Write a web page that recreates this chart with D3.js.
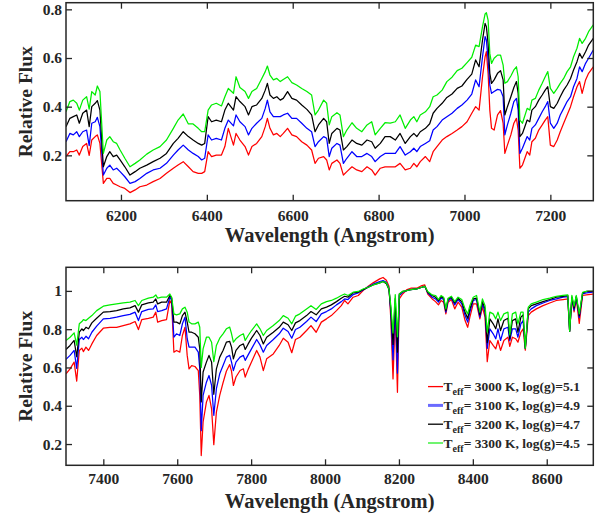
<!DOCTYPE html>
<html>
<head>
<meta charset="utf-8">
<script src="https://cdn.jsdelivr.net/npm/d3@7"></script>
<style>
  body { margin: 0; background: #fff; }
  text { font-family: "Liberation Serif", "Times New Roman", serif; font-weight: bold; fill: #262626; }
</style>
</head>
<body>
<svg id="chart" width="612" height="518"></svg>
<script>
// ---------- Panel 1: 6070-7300 Å ----------
const waveA = [6072,6081,6089,6097,6103,6111,6120,6126,6132,6140,6145,6151,6159,6167,6174,6182,6190,6198,6209,6221,6233,6244,6260,6275,6291,6306,6322,6333,6345,6357,6368,6380,6388,6395,6403,6411,6422,6434,6442,6450,
  6462,6468,6477,6489,6497,6505,6516,6528,6536,6541,6547,6555,6563,6571,6578,6588,6598,6609,6621,6633,6644,6652,6660,6672,6679,6685,6691,6703,6710,6718,6726,6738,6749,6761,6773,6784,6792,6804,6815,6827,6839,6850,6862,
  6874,6882,6889,6897,6909,6919,6927,6936,6948,6959,6971,6983,6994,7006,7017,7026,7034,7042,7048,7051,7055,7059,7063,7069,7077,7084,7090,7094,7100,7108,7115,7121,7125,7129,7135,7146,7152,7157,7165,7173,7181,7188,7194,7200,7208,7216,7223,7231,7239,7247,7254,7262,7268,7274,7282,7289,7300];

const fluxA3000 = [0.195,0.215,0.215,0.222,0.201,0.236,0.249,0.200,0.263,0.277,0.284,0.249,0.085,0.105,0.105,0.085,0.078,0.071,0.064,0.047,0.058,0.071,0.078,0.092,0.105,0.126,0.147,0.160,0.174,0.153,0.133,0.126,0.126,0.133,0.215,0.195,0.201,0.201,0.236,0.311,
  0.242,0.290,0.263,0.236,0.201,0.236,0.249,0.277,0.318,0.352,0.311,0.284,0.290,0.277,0.290,0.311,0.284,0.277,0.256,0.242,0.222,0.167,0.188,0.195,0.181,0.140,0.167,0.181,0.167,0.119,0.133,0.153,0.140,0.133,0.153,0.140,0.119,0.147,0.153,0.153,0.153,0.167,0.140,
  0.147,0.167,0.153,0.174,0.195,0.174,0.215,0.236,0.263,0.277,0.290,0.304,0.318,0.338,0.373,0.400,0.386,0.523,0.605,0.626,0.537,0.386,0.311,0.304,0.366,0.384,0.332,0.208,0.242,0.284,0.332,0.352,0.304,0.147,0.160,0.215,0.201,0.256,0.270,0.304,0.325,0.345,0.359,0.242,0.236,0.263,0.297,0.332,0.366,0.400,0.441,0.482,0.503,0.455,0.510,0.537,0.564];

const fluxA3100 = [0.256,0.290,0.284,0.297,0.277,0.297,0.304,0.240,0.332,0.338,0.356,0.318,0.119,0.147,0.160,0.140,0.147,0.133,0.112,0.085,0.092,0.105,0.126,0.140,0.147,0.167,0.201,0.222,0.242,0.222,0.208,0.195,0.181,0.188,0.284,0.263,0.270,0.263,0.311,0.345,
  0.321,0.366,0.338,0.318,0.284,0.311,0.332,0.352,0.393,0.427,0.379,0.359,0.359,0.359,0.366,0.373,0.352,0.352,0.332,0.311,0.297,0.236,0.256,0.277,0.270,0.195,0.229,0.249,0.242,0.167,0.188,0.215,0.195,0.195,0.208,0.195,0.174,0.195,0.208,0.208,0.208,0.236,0.201,
  0.215,0.229,0.215,0.236,0.249,0.260,0.304,0.318,0.345,0.359,0.373,0.393,0.407,0.427,0.452,0.510,0.482,0.605,0.688,0.674,0.592,0.489,0.455,0.462,0.471,0.468,0.441,0.284,0.325,0.373,0.421,0.434,0.386,0.208,0.229,0.277,0.263,0.311,0.325,0.352,0.379,0.400,0.421,0.332,0.311,0.332,0.366,0.393,0.421,0.441,0.482,0.516,0.564,0.544,0.578,0.599,0.633];

const fluxA3200 = [0.318,0.352,0.359,0.366,0.332,0.373,0.386,0.318,0.400,0.414,0.425,0.386,0.153,0.195,0.215,0.195,0.201,0.181,0.153,0.119,0.133,0.147,0.160,0.174,0.188,0.208,0.249,0.270,0.297,0.277,0.263,0.249,0.242,0.249,0.359,0.338,0.345,0.338,0.386,0.414,
  0.386,0.441,0.421,0.400,0.366,0.400,0.407,0.434,0.468,0.496,0.448,0.434,0.441,0.427,0.434,0.462,0.434,0.427,0.407,0.389,0.366,0.297,0.325,0.352,0.338,0.249,0.290,0.311,0.304,0.222,0.236,0.263,0.249,0.242,0.263,0.256,0.229,0.249,0.277,0.277,0.263,0.290,0.249,
  0.277,0.290,0.277,0.297,0.311,0.330,0.373,0.393,0.414,0.438,0.452,0.475,0.485,0.512,0.534,0.592,0.564,0.674,0.742,0.729,0.660,0.537,0.496,0.510,0.537,0.548,0.510,0.366,0.400,0.441,0.479,0.503,0.455,0.277,0.290,0.345,0.338,0.386,0.400,0.427,0.448,0.468,0.482,0.400,0.393,0.414,0.441,0.468,0.489,0.516,0.551,0.585,0.619,0.599,0.626,0.653,0.681];

const fluxA3300 = [0.379,0.421,0.427,0.414,0.386,0.427,0.441,0.390,0.462,0.448,0.485,0.462,0.208,0.263,0.277,0.256,0.249,0.222,0.188,0.153,0.167,0.181,0.205,0.222,0.236,0.263,0.311,0.345,0.370,0.329,0.329,0.311,0.297,0.297,0.386,0.407,0.414,0.403,0.441,0.475,
  0.455,0.523,0.479,0.462,0.434,0.462,0.475,0.516,0.544,0.567,0.530,0.510,0.516,0.503,0.512,0.523,0.499,0.489,0.475,0.462,0.448,0.366,0.386,0.427,0.414,0.325,0.359,0.375,0.366,0.277,0.304,0.334,0.311,0.297,0.325,0.338,0.284,0.311,0.334,0.332,0.338,0.366,0.311,
  0.345,0.359,0.338,0.366,0.379,0.400,0.441,0.448,0.468,0.503,0.521,0.548,0.558,0.581,0.603,0.653,0.647,0.729,0.781,0.786,0.756,0.619,0.578,0.599,0.612,0.612,0.571,0.496,0.503,0.526,0.551,0.564,0.523,0.345,0.332,0.393,0.386,0.427,0.434,0.468,0.496,0.523,0.544,0.475,0.455,0.475,0.496,0.516,0.544,0.564,0.605,0.640,0.681,0.660,0.681,0.708,0.736];

const ticksA_x = [6200, 6400, 6600, 6800, 7000, 7200];
const ticksA_y = [0.2, 0.4, 0.6, 0.8];

// ---------- Panel 2: 7300-8725 Å ----------
const waveB = [7299,7310,7321,7328,7335,7342,7346,7353,7360,7369,7382,7400,7418,7436,7454,7472,7486,7495,7504,7522,7535,7542,7547,7558,7571,7580,7585,7591,7598,7607,7614,7621,7627,7632,7639,7648,7657,7661,7665,7670,
  7679,7686,7693,7699,7706,7715,7724,7733,7742,7747,7752,7759,7770,7779,7784,7792,7801,7815,7824,7833,7842,7860,7876,7887,7900,7910,7920,7932,7950,7962,7976,7990,8004,8017,8031,8044,8053,8062,8076,8090,
  8103,8117,8130,8148,8157,8166,8173,8178,8184,8190,8196,8201,8210,8222,8232,8248,8262,8270,8278,8290,8299,8307,8314,8321,8327,8333,8342,8351,8360,8370,8379,8386,8392,8401,8410,8419,8426,8433,8439,8446,
  8455,8462,8468,8475,8484,8495,8500,8507,8516,8522,8530,8536,8542,8550,8558,8572,8590,8608,8626,8644,8657,8662,8668,8674,8680,8688,8697,8707,8725];

const fluxB3000 = [0.567,0.593,0.628,0.529,0.689,0.701,0.683,0.706,0.689,0.723,0.767,0.805,0.810,0.810,0.819,0.828,0.840,0.798,0.850,0.857,0.863,0.889,0.837,0.845,0.850,0.950,0.932,0.680,0.689,0.680,0.767,0.810,0.663,0.593,0.610,0.605,0.584,0.454,0.140,0.315,
  0.419,0.454,0.384,0.197,0.367,0.454,0.520,0.580,0.615,0.580,0.506,0.550,0.584,0.593,0.550,0.590,0.628,0.689,0.654,0.584,0.645,0.671,0.715,0.753,0.732,0.677,0.746,0.758,0.793,0.819,0.784,0.837,0.854,0.871,0.897,0.923,0.950,0.932,0.967,0.976,
  1.002,1.024,1.042,1.063,1.070,1.056,1.024,0.854,0.540,0.880,0.470,0.958,0.984,1.007,1.014,1.014,1.028,1.031,0.984,0.958,0.944,0.927,0.950,0.941,0.880,0.941,0.955,0.906,0.941,0.915,0.845,0.810,0.863,0.932,0.932,0.854,0.915,0.863,0.630,0.741,
  0.715,0.697,0.741,0.689,0.741,0.758,0.710,0.758,0.750,0.732,0.784,0.802,0.690,0.871,0.889,0.906,0.923,0.937,0.950,0.955,0.958,0.790,0.955,0.890,0.958,0.830,0.976,0.979,0.983];

const fluxB3100 = [0.642,0.663,0.689,0.595,0.746,0.758,0.746,0.763,0.750,0.784,0.816,0.854,0.857,0.863,0.871,0.877,0.889,0.845,0.892,0.903,0.906,0.927,0.892,0.897,0.906,0.967,0.950,0.758,0.776,0.767,0.828,0.863,0.750,0.706,0.706,0.706,0.680,0.593,0.270,0.454,
  0.523,0.558,0.506,0.350,0.489,0.567,0.610,0.654,0.663,0.628,0.584,0.628,0.654,0.663,0.637,0.666,0.697,0.746,0.718,0.680,0.715,0.746,0.776,0.805,0.788,0.753,0.798,0.810,0.840,0.863,0.840,0.880,0.892,0.906,0.927,0.944,0.958,0.955,0.981,0.990,
  1.005,1.021,1.035,1.049,1.054,1.045,1.014,0.889,0.640,0.930,0.570,0.976,0.993,1.002,1.007,1.010,1.019,1.024,0.990,0.967,0.958,0.941,0.962,0.955,0.889,0.950,0.962,0.927,0.955,0.932,0.871,0.837,0.889,0.950,0.955,0.863,0.932,0.889,0.700,0.802,
  0.776,0.750,0.802,0.741,0.802,0.810,0.740,0.802,0.802,0.758,0.828,0.845,0.700,0.889,0.906,0.923,0.937,0.950,0.958,0.967,0.970,0.790,0.962,0.900,0.967,0.860,0.984,0.990,0.993];

const fluxB3200 = [0.694,0.715,0.741,0.656,0.784,0.802,0.793,0.810,0.802,0.833,0.857,0.889,0.892,0.897,0.906,0.911,0.923,0.889,0.927,0.937,0.941,0.958,0.932,0.941,0.941,0.976,0.962,0.837,0.837,0.828,0.871,0.889,0.837,0.784,0.784,0.776,0.758,0.697,0.420,0.576,
  0.628,0.663,0.628,0.460,0.593,0.654,0.689,0.732,0.736,0.706,0.645,0.689,0.715,0.723,0.694,0.723,0.753,0.793,0.767,0.723,0.758,0.784,0.810,0.837,0.823,0.793,0.833,0.845,0.871,0.892,0.875,0.906,0.915,0.927,0.944,0.962,0.972,0.967,0.990,0.993,
  1.007,1.019,1.031,1.042,1.049,1.038,1.007,0.906,0.720,0.960,0.680,0.984,0.997,1.002,1.007,1.010,1.019,1.024,0.993,0.976,0.967,0.950,0.970,0.962,0.897,0.958,0.967,0.937,0.962,0.944,0.889,0.857,0.906,0.958,0.962,0.875,0.944,0.906,0.730,0.854,
  0.828,0.802,0.854,0.793,0.845,0.857,0.750,0.845,0.854,0.784,0.863,0.875,0.700,0.906,0.923,0.932,0.944,0.955,0.967,0.972,0.976,0.790,0.967,0.910,0.972,0.870,0.990,0.997,0.997];

const fluxB3300 = [0.741,0.758,0.781,0.717,0.828,0.840,0.850,0.845,0.857,0.871,0.897,0.920,0.927,0.932,0.937,0.941,0.950,0.923,0.950,0.962,0.967,0.979,0.962,0.967,0.967,0.984,0.967,0.880,0.875,0.880,0.906,0.915,0.889,0.837,0.828,0.828,0.837,0.810,0.600,0.697,
  0.758,0.758,0.732,0.630,0.715,0.753,0.776,0.802,0.811,0.776,0.732,0.750,0.767,0.776,0.741,0.767,0.793,0.828,0.802,0.767,0.793,0.819,0.845,0.871,0.857,0.828,0.868,0.880,0.906,0.923,0.903,0.932,0.944,0.950,0.962,0.976,0.984,0.976,0.993,0.997,
  1.010,1.019,1.031,1.042,1.049,1.042,1.010,0.923,0.780,0.980,0.760,0.984,0.997,1.002,1.007,1.010,1.019,1.024,0.997,0.979,0.976,0.955,0.976,0.967,0.906,0.962,0.972,0.944,0.967,0.955,0.906,0.880,0.923,0.967,0.976,0.889,0.958,0.923,0.785,0.889,
  0.880,0.854,0.889,0.845,0.880,0.889,0.770,0.880,0.889,0.828,0.889,0.889,0.700,0.915,0.932,0.941,0.955,0.962,0.972,0.976,0.979,0.790,0.976,0.920,0.976,0.880,0.993,0.997,0.997];

const ticksB_x = [7400, 7600, 7800, 8000, 8200, 8400, 8600];
const ticksB_y = [0.2, 0.4, 0.6, 0.8, 1];

// ---------- Legend ----------
const legendTemps = ["3000", "3100", "3200", "3300"];
const legendLogg = ["5.1", "4.9", "4.7", "4.5"];
const lineColors = ["#ff0000", "#0000ff", "#000000", "#00ee00"];
const legendColors = ["#ff0000", "#6b6bff", "#000000", "#22ee22"];

const svg = d3.select("#chart");
const axisColor = "#262626";

function drawPanel(opts) {
  const x = d3.scaleLinear().domain(opts.xDomain).range([66, 593.3]);
  const y = d3.scaleLinear().domain(opts.yDomain).range([opts.bottom, opts.top]);
  const g = svg.append("g");

  const clipId = "clip" + opts.id;
  g.append("clipPath").attr("id", clipId)
    .append("rect").attr("x", 66).attr("y", opts.top)
    .attr("width", 593.3 - 66).attr("height", opts.bottom - opts.top);

  const line = d3.line().x(d => x(d[0])).y(d => y(d[1]));
  const lines = g.append("g").attr("clip-path", `url(#${clipId})`);
  opts.series.forEach((s, i) => {
    lines.append("path")
      .datum(opts.wave.map((w, k) => [w, s[k]]))
      .attr("fill", "none")
      .attr("stroke", lineColors[i])
      .attr("stroke-width", 1.25)
      .attr("stroke-linejoin", "round")
      .attr("d", line);
  });

  const fmt = v => (v === 1 ? "1" : v.toFixed(1));

  // bottom axis with labels, inward ticks
  const ax = g.append("g").attr("transform", `translate(0,${opts.bottom})`)
    .call(d3.axisBottom(x).tickValues(opts.xTicks).tickSizeInner(-6).tickSizeOuter(0).tickPadding(opts.xPad).tickFormat(d3.format("d")));
  ax.selectAll("text").attr("font-size", 15.5).attr("font-family", null).style("fill", axisColor);
  // top axis, ticks only
  const axT = g.append("g").attr("transform", `translate(0,${opts.top})`)
    .call(d3.axisTop(x).tickValues(opts.xTicks).tickSizeInner(-6).tickSizeOuter(0).tickFormat(""));
  // left axis with labels
  const ay = g.append("g").attr("transform", "translate(66,0)")
    .call(d3.axisLeft(y).tickValues(opts.yTicks).tickSizeInner(-6).tickSizeOuter(0).tickPadding(4).tickFormat(fmt));
  ay.selectAll("text").attr("font-size", 15.5).attr("font-family", null).style("fill", axisColor);
  // right axis, ticks only
  const ayR = g.append("g").attr("transform", "translate(593.3,0)")
    .call(d3.axisRight(y).tickValues(opts.yTicks).tickSizeInner(-6).tickSizeOuter(0).tickFormat(""));

  [ax, axT, ay, ayR].forEach(a => {
    a.select(".domain").remove();
    a.selectAll("line").attr("stroke", axisColor).attr("stroke-width", 1.3);
  });

  g.append("rect")
    .attr("x", 66).attr("y", opts.top)
    .attr("width", 593.3 - 66).attr("height", opts.bottom - opts.top)
    .attr("fill", "none").attr("stroke", axisColor).attr("stroke-width", 1.5);

  g.append("text")
    .attr("x", (66 + 593.3) / 2).attr("y", opts.titleY)
    .attr("text-anchor", "middle").attr("font-size", 20.5)
    .text("Wavelength (Angstrom)");
  g.append("text")
    .attr("transform", `translate(${opts.ylabelX},${(opts.top + opts.bottom) / 2}) rotate(-90)`)
    .attr("text-anchor", "middle").attr("font-size", 19.5)
    .text("Relative Flux");

  return { x, y, g };
}

drawPanel({
  id: "A", wave: waveA, series: [fluxA3000, fluxA3100, fluxA3200, fluxA3300],
  xDomain: [6072, 7300], yDomain: [0.0136, 0.8273], top: 2.7, bottom: 200.7,
  xTicks: ticksA_x, yTicks: ticksA_y, xPad: 9, titleY: 242, ylabelX: 32
});

const pB = drawPanel({
  id: "B", wave: waveB, series: [fluxB3000, fluxB3100, fluxB3200, fluxB3300],
  xDomain: [7299, 8726], yDomain: [0.0889, 1.1233], top: 267.3, bottom: 465.3,
  xTicks: ticksB_x, yTicks: ticksB_y, xPad: 8, titleY: 508, ylabelX: 32
});

// legend inside lower panel
const leg = pB.g.append("g");
legendTemps.forEach((t, i) => {
  const yy = 386.6 + i * 18.8;
  leg.append("line")
    .attr("x1", 428).attr("x2", 443).attr("y1", yy).attr("y2", yy)
    .attr("stroke", legendColors[i]).attr("stroke-width", i === 1 ? 3 : 1.3);
  const tx = leg.append("text").attr("x", 443.5).attr("y", yy + 4.5).attr("font-size", 13.5);
  tx.append("tspan").text("T");
  tx.append("tspan").attr("font-size", 10).attr("dy", 4).text("eff");
  tx.append("tspan").attr("dy", -4).text(`= ${t} K, log(g)=${legendLogg[i]}`);
});
</script>
</body>
</html>
